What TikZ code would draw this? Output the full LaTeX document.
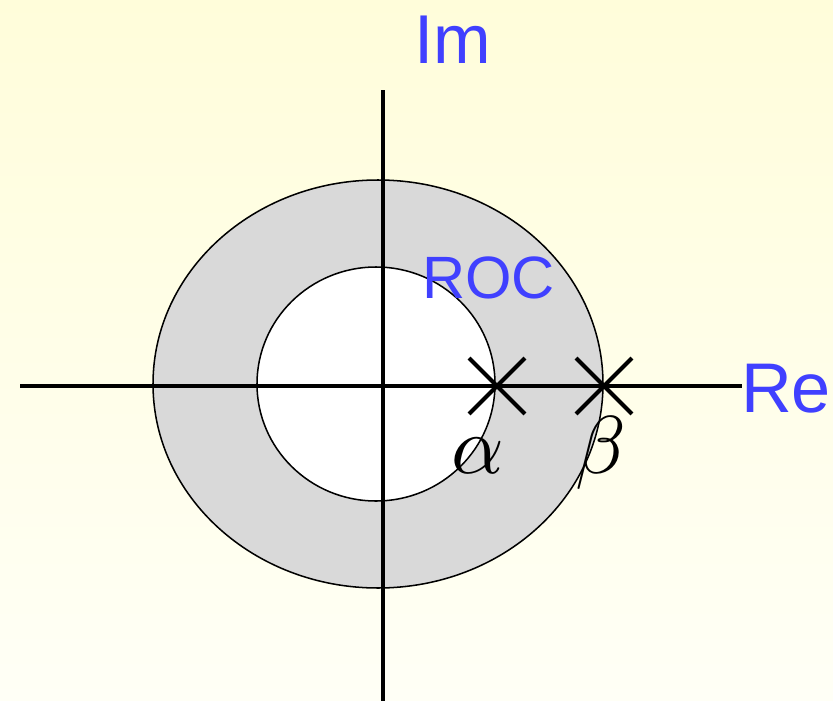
\documentclass[tikz,border=0pt]{standalone}
\usepackage{fontspec}
\setmainfont{Liberation Sans}
\usetikzlibrary{shapes.misc}
\definecolor{bgtop}{RGB}{255,253,218}
\definecolor{bgbot}{RGB}{255,255,246}
\definecolor{rocgrey}{RGB}{217,217,217}
\definecolor{lblblue}{RGB}{64,64,255}
\tikzstyle{axis} = [line width=3.4pt, black]
\tikzstyle{ring} = [line width=1.3pt, black]
\tikzstyle{pole} = [cross out, draw=black, line width=3.6pt, minimum size=1.55cm, inner sep=0pt]
\tikzstyle{lbl} = [text=lblblue, anchor=base west, inner sep=0pt]
\tikzstyle{greek} = [anchor=base, inner sep=0pt, scale=7]

\begin{document}
\begin{tikzpicture}[x=0.03cm, y=-0.03cm]
      \shade[top color=bgtop, bottom color=bgbot] (0,0) rectangle (833,701);
      \useasboundingbox (0,0) rectangle (833,701);
      % region of convergence
      \fill[rocgrey] (378,384) ellipse [x radius=225, y radius=204];
      \fill[white] (376,384) ellipse [x radius=119, y radius=117];
      \draw[ring] (378,384) ellipse [x radius=225, y radius=204];
      \draw[ring] (376,384) ellipse [x radius=119, y radius=117];
      % axes
      \coordinate (reL) at (20,386);
      \coordinate (reR) at (742,386);
      \coordinate (imT) at (383,90);
      \coordinate (imB) at (383,701);
      \draw[axis] (reL)--(reR);
      \draw[axis] (imT)--(imB);
      % poles
      \node (alpha)[pole] at (497,386) {};
      \node (beta)[pole] at (604,386) {};
      \node (alab)[greek] at (478,473) {$\alpha$};
      \node (blab)[greek] at (601,473) {$\beta$};
      % labels
      \node (im)[lbl, font=\fontsize{59}{59}\selectfont] at (414,63) {Im};
      \node (re)[lbl, font=\fontsize{60}{60}\selectfont] at (741,412) {Re};
      \node (roc)[lbl, font=\fontsize{51}{51}\selectfont] at (422,298) {ROC};
    \end{tikzpicture}
\end{document}
